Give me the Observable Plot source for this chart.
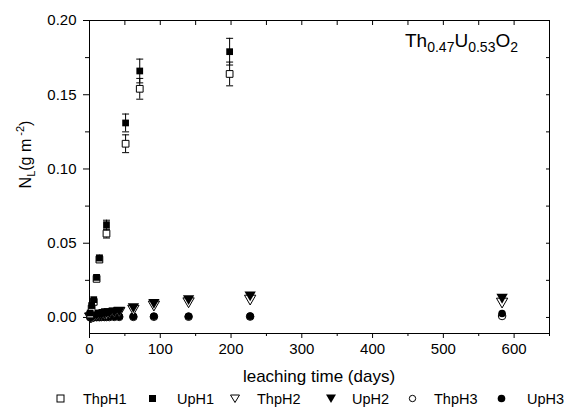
<!DOCTYPE html>
<html><head><meta charset="utf-8">
<script src="https://cdn.jsdelivr.net/npm/d3@7"></script>
<script src="https://cdn.jsdelivr.net/npm/@observablehq/plot@0.6"></script>
<style>
body{margin:0;background:#fff;font-family:"Liberation Sans",Arial,sans-serif;}
#chart svg{display:block;}
#legend{position:relative;width:564px;height:18px;font-size:14.5px;color:#000;}
#legend .sym{position:absolute;top:4px;line-height:0;}
#legend .lab{position:absolute;top:1px;line-height:16px;}
</style></head><body><div id="chart"></div><div id="legend"></div>
<script>
// H1 series (open/filled squares)
const daysH1 = [1, 3, 6, 10, 14, 24, 51, 71, 198];
const thpH1 = [0.002, 0.006, 0.0105, 0.026, 0.039, 0.0565, 0.117, 0.154, 0.164];
const thpH1Err = [0.0003, 0.0005, 0.001, 0.0015, 0.002, 0.003, 0.006, 0.007, 0.008];
const upH1 = [0.003, 0.008, 0.012, 0.027, 0.040, 0.0625, 0.131, 0.166, 0.179];
const upH1Err = [0.0003, 0.0005, 0.001, 0.0015, 0.002, 0.003, 0.006, 0.008, 0.009];
// H2 series (open/filled down triangles)
const daysH2 = [1, 3, 6, 10, 14, 17, 21, 24, 28, 35, 42, 62, 91, 140, 227, 583];
const thpH2 = [0.0008, 0.001, 0.0015, 0.002, 0.0025, 0.0025, 0.003, 0.003, 0.0035, 0.004, 0.0045, 0.006, 0.0088, 0.011, 0.0128, 0.0108];
const upH2 = [0.001, 0.0015, 0.002, 0.0025, 0.003, 0.003, 0.0035, 0.004, 0.004, 0.0045, 0.005, 0.0074, 0.0103, 0.0128, 0.0153, 0.0137];
// H3 series (open/filled circles)
const daysH3 = [1, 3, 6, 10, 14, 17, 21, 24, 28, 35, 42, 62, 91, 140, 227, 583];
const thpH3 = [0.0001, 0.0001, 0.0002, 0.0002, 0.0002, 0.0003, 0.0003, 0.0003, 0.0003, 0.0004, 0.0004, 0.0004, 0.0005, 0.0005, 0.0006, 0.001];
const upH3 = [0.0002, 0.0003, 0.0003, 0.0004, 0.0004, 0.0005, 0.0005, 0.0005, 0.0006, 0.0006, 0.0007, 0.0007, 0.0008, 0.0008, 0.0009, 0.0027];
// ticks
const xTicks = [0, 100, 200, 300, 400, 500, 600];
const xMinor = [50, 150, 250, 350, 450, 550, 650];
const yTicks = [0, 0.05, 0.10, 0.15, 0.20];
const yMinor = [0.025, 0.075, 0.125, 0.175];
const legendNames = ["ThpH1", "UpH1", "ThpH2", "UpH2", "ThpH3", "UpH3"];

const rows = (days, vals, errs) => days.map((d, i) => ({day: d, v: vals[i], e: errs ? errs[i] : 0}));
const sThpH1 = rows(daysH1, thpH1, thpH1Err);
const sUpH1 = rows(daysH1, upH1, upH1Err);
const sThpH2 = rows(daysH2, thpH2);
const sUpH2 = rows(daysH2, upH2);
const sThpH3 = rows(daysH3, thpH3);
const sUpH3 = rows(daysH3, upH3);

const cap = {draw(ctx) { ctx.moveTo(-3.5, 0); ctx.lineTo(3.5, 0); }};
const errMarks = (s) => [
  Plot.ruleX(s.filter(d => d.e > 0.001), {x: "day", y1: d => d.v - d.e, y2: d => d.v + d.e, stroke: "black", strokeWidth: 1}),
  Plot.dot(s.filter(d => d.e > 0.001), {x: "day", y: d => d.v - d.e, symbol: cap, r: 3, stroke: "black", strokeWidth: 1}),
  Plot.dot(s.filter(d => d.e > 0.001), {x: "day", y: d => d.v + d.e, symbol: cap, r: 3, stroke: "black", strokeWidth: 1})
];
const blank = () => "";
const fs = 15;

const plot = Plot.plot({
  width: 564, height: 390,
  marginLeft: 89, marginRight: 15, marginTop: 20, marginBottom: 57,
  style: {fontFamily: "Liberation Sans, Arial, sans-serif", background: "white", color: "black"},
  x: {domain: [0, 650]},
  y: {domain: [-0.0108, 0.2]},
  marks: [
    Plot.axisX(xTicks, {tickSize: 5, tickPadding: 5, fontSize: fs, label: null, tickFormat: d3.format("d")}),
    Plot.axisX(xMinor, {tickSize: 3, tickFormat: blank, label: null}),
    Plot.axisX(xTicks.concat(xMinor), {anchor: "top", tickSize: -4, tickFormat: blank, label: null}),
    Plot.axisY(yTicks, {tickSize: 6, tickPadding: 7, fontSize: fs, label: null, tickFormat: d3.format(".2f")}),
    Plot.axisY(yMinor, {tickSize: 4, tickFormat: blank, label: null}),
    Plot.axisY(yTicks.concat(yMinor), {anchor: "right", tickSize: -4, tickFormat: blank, label: null}),
    Plot.frame({stroke: "black", strokeWidth: 1}),
    ...errMarks(sThpH1),
    ...errMarks(sUpH1),
    Plot.dot(sThpH3, {x: "day", y: "v", symbol: "circle", r: 3.8, fill: "white", stroke: "black", strokeWidth: 1}),
    Plot.dot(sUpH3, {x: "day", y: "v", symbol: "circle", r: 3.8, fill: "black"}),
    Plot.dot(sThpH2, {x: "day", y: "v", symbol: "triangle", rotate: 180, r: 4.2, fill: "white", stroke: "black", strokeWidth: 1}),
    Plot.dot(sUpH2, {x: "day", y: "v", symbol: "triangle", rotate: 180, r: 4.2, fill: "black"}),
    Plot.dot(sThpH1, {x: "day", y: "v", symbol: "square", r: 3.8, fill: "white", stroke: "black", strokeWidth: 1}),
    Plot.dot(sUpH1, {x: "day", y: "v", symbol: "square", r: 3.8, fill: "black"})
  ]
});
document.getElementById("chart").appendChild(plot);

// Axis labels & annotation with sub/superscripts
const svg = d3.select(plot);
const xs = plot.scale("x"), ys = plot.scale("y");
svg.append("text")
  .attr("x", (xs.range[0] + xs.range[1]) / 2).attr("y", 382)
  .attr("text-anchor", "middle").attr("font-size", 17).attr("fill", "black")
  .text("leaching time (days)");
const yl = svg.append("text")
  .attr("transform", `translate(31,${(ys.range[0] + ys.range[1]) / 2 - 22}) rotate(-90)`)
  .attr("text-anchor", "middle").attr("font-size", 16).attr("fill", "black");
yl.append("tspan").text("N");
yl.append("tspan").attr("font-size", 11).attr("dy", 4).text("L");
yl.append("tspan").attr("dy", -4).text("(g m");
yl.append("tspan").attr("font-size", 11).attr("dy", -7).text(" -2");
yl.append("tspan").attr("dy", 7).text(")");
const an = svg.append("text").attr("x", 405).attr("y", 47).attr("text-anchor", "start").attr("font-size", 19).attr("fill", "black");
an.append("tspan").text("Th");
an.append("tspan").attr("font-size", 14).attr("dy", 5).text("0.47");
an.append("tspan").attr("dy", -5).text("U");
an.append("tspan").attr("font-size", 14).attr("dy", 5).text("0.53");
an.append("tspan").attr("dy", -5).text("O");
an.append("tspan").attr("font-size", 14).attr("dy", 5).text("2");

// Legend
const symX = [60, 152, 234, 330, 412, 501];
const labX = [83, 177, 257, 352, 434, 527];
const symSvg = [
  '<svg width="9" height="9"><rect x="1" y="1" width="7" height="7" fill="white" stroke="black"/></svg>',
  '<svg width="9" height="9"><rect x="1" y="1" width="7" height="7" fill="black"/></svg>',
  '<svg width="10" height="9"><path d="M0.5,1 L9.5,1 L5,8.5Z" fill="white" stroke="black"/></svg>',
  '<svg width="10" height="9"><path d="M0,0.5 L10,0.5 L5,9Z" fill="black"/></svg>',
  '<svg width="9" height="9"><circle cx="4.5" cy="4.5" r="3.2" fill="white" stroke="black"/></svg>',
  '<svg width="9" height="9"><circle cx="4.5" cy="4.5" r="3.8" fill="black"/></svg>'
];
const leg = document.getElementById("legend");
legendNames.forEach((n, i) => {
  const s = document.createElement("div");
  s.className = "sym"; s.style.left = (symX[i] - 4.5) + "px"; s.innerHTML = symSvg[i];
  leg.appendChild(s);
  const t = document.createElement("span");
  t.className = "lab"; t.style.left = labX[i] + "px"; t.textContent = n;
  leg.appendChild(t);
});
</script></body></html>
